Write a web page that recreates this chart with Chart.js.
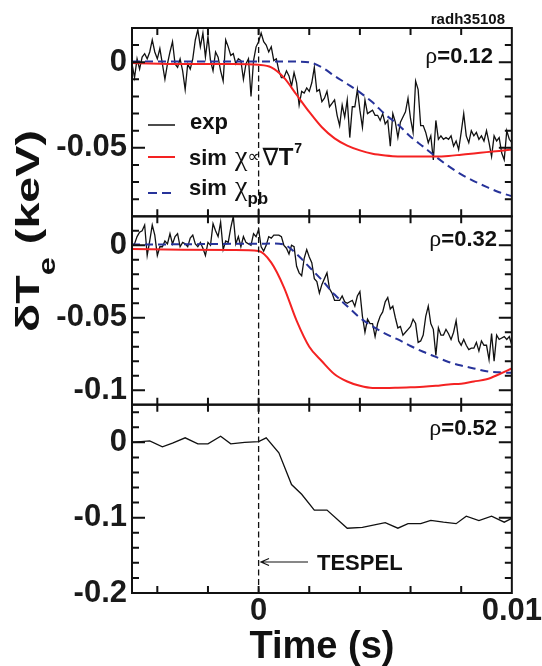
<!DOCTYPE html>
<html lang="en">
<head>
<meta charset="UTF-8">
<title>TESPEL cold pulse - delta Te</title>
<script src="https://cdn.jsdelivr.net/npm/chart.js@4"></script>
<style>
  body { margin: 0; background: #fff; }
  #wrap { width: 542px; height: 666px; }
</style>
</head>
<body>
<div id="wrap"><canvas id="te" width="542" height="666"></canvas></div>
<script>
const SANS = '"Liberation Sans", Arial, Helvetica, sans-serif';
const SERIF = '"Liberation Serif", "DejaVu Serif", serif';
const SYM = '"DejaVu Sans", sans-serif';

// time axis (s)
const xTicks = [-0.004, -0.002, 0, 0.002, 0.004, 0.006, 0.008, 0.01];
const xLabels = [0, 0.01];
const tespelTime = 0;

// y ticks per panel (keV)
const topTicks = [0.01, 0, -0.01, -0.02, -0.03, -0.04, -0.05, -0.06, -0.07, -0.08];
const topLabels = [0, -0.05];
const midTicks = [0.01, 0, -0.01, -0.02, -0.03, -0.04, -0.05, -0.06, -0.07, -0.08, -0.09, -0.1];
const midLabels = [0, -0.05, -0.1];
const lowTicks = [0.04, 0.02, 0, -0.02, -0.04, -0.06, -0.08, -0.1, -0.12, -0.14, -0.16, -0.18, -0.2];
const lowLabels = [0, -0.1, -0.2];

// measured traces, one sample every 0.1 ms starting at -5 ms
const expStart = -0.005;
const expStep = 0.0001;
const expTop = [
  -0.001, -0.009, 0.002, -0.004, 0.003, 0.005, 0.002, 0.006, 0.013, 0.006,
  0.002, 0.008, -0.001, -0.010, -0.001, 0.006, 0.012, -0.001, -0.003, 0.002,
  -0.005, -0.016, -0.001, -0.004, 0.002, 0.013, 0.019, 0.009, 0.017, 0.003,
  0.015, 0.001, -0.005, 0.006, 0.003, -0.005, -0.011, 0.013, 0.009, 0.004,
  0.005, -0.001, 0.002, 0.001, -0.010, -0.001, 0.002, -0.020, 0.001, 0.009,
  0.012, 0.017, 0.012, 0.010, 0.006, 0.009, 0.001, 0.002, -0.005, -0.009,
  -0.009, -0.005, -0.008, -0.014, -0.006, -0.012, -0.025, -0.017, -0.018, -0.015,
  -0.017, -0.012, -0.003, -0.017, -0.016, -0.023, -0.021, -0.017, -0.026, -0.024,
  -0.022, -0.031, -0.037, -0.025, -0.032, -0.022, -0.044, -0.026, -0.026, -0.016,
  -0.028, -0.038, -0.022, -0.030, -0.029, -0.028, -0.031, -0.031, -0.034, -0.030,
  -0.036, -0.034, -0.049, -0.030, -0.035, -0.044, -0.035, -0.032, -0.029, -0.021,
  -0.033, -0.041, -0.011, -0.016, -0.037, -0.037, -0.041, -0.047, -0.043, -0.057,
  -0.034, -0.045, -0.043, -0.045, -0.044, -0.045, -0.043, -0.049, -0.046, -0.051,
  -0.041, -0.030, -0.043, -0.047, -0.040, -0.043, -0.041, -0.045, -0.043, -0.046,
  -0.040, -0.047, -0.055, -0.043, -0.046, -0.044, -0.053, -0.057, -0.040, -0.045,
  -0.047
];
const expMid = [
  0.000, 0.001, 0.006, 0.009, 0.010, 0.014, -0.007, 0.003, 0.014, 0.007,
  -0.007, -0.001, -0.001, 0.003, 0.001, 0.008, 0.001, 0.006, 0.008, -0.001,
  0.002, 0.001, -0.001, 0.005, 0.007, 0.001, -0.001, 0.002, -0.002, -0.007,
  0.002, 0.000, 0.015, 0.010, 0.006, 0.016, -0.003, 0.003, 0.002, 0.012,
  0.020, 0.001, 0.006, -0.001, 0.006, 0.002, 0.001, 0.000, 0.008, 0.006,
  0.011, -0.001, -0.004, 0.000, 0.006, 0.005, 0.007, 0.007, 0.007, 0.006,
  0.000, -0.002, -0.006, 0.000, -0.001, -0.0145, -0.019, -0.021, -0.009, -0.003,
  -0.008, -0.012, -0.023, -0.025, -0.033, -0.027, -0.023, -0.019, -0.030, -0.033,
  -0.038, -0.038, -0.038, -0.035, -0.039, -0.040, -0.039, -0.038, -0.042, -0.035,
  -0.032, -0.049, -0.060, -0.051, -0.054, -0.054, -0.063, -0.054, -0.049, -0.046,
  -0.039, -0.036, -0.044, -0.042, -0.050, -0.057, -0.056, -0.062, -0.060, -0.058,
  -0.056, -0.051, -0.054, -0.067, -0.066, -0.062, -0.049, -0.042, -0.054, -0.058,
  -0.076, -0.057, -0.062, -0.062, -0.058, -0.061, -0.065, -0.060, -0.052, -0.066,
  -0.069, -0.065, -0.069, -0.072, -0.071, -0.071, -0.067, -0.073, -0.066, -0.069,
  -0.069, -0.079, -0.061, -0.080, -0.062, -0.065, -0.064, -0.063, -0.065, -0.063,
  -0.069
];

// rho = 0.52 channel (coarser sampling)
const expLowTime = [-0.005, -0.0043, -0.0038, -0.0034, -0.0029, -0.0024, -0.002, -0.0015, -0.0011, -0.00055,
  0, 0.0003, 0.0008, 0.0013, 0.0017, 0.0022, 0.0027, 0.0035, 0.0041, 0.005,
  0.0055, 0.0059, 0.0064, 0.0068, 0.0073, 0.0078, 0.0082, 0.0087, 0.0092, 0.0097, 0.01];
const expLow = [0.000, 0.002, -0.006, -0.001, 0.006, -0.002, -0.002, 0.008, -0.002, 0.000,
  0.001, 0.006, -0.014, -0.056, -0.069, -0.090, -0.090, -0.114, -0.113, -0.1065,
  -0.114, -0.108, -0.108, -0.1035, -0.106, -0.108, -0.098, -0.104, -0.098, -0.106, -0.101];

// simulations
const simTime = [-0.005, -0.003, -0.001, 0, 0.0005, 0.001, 0.0015, 0.002, 0.0025, 0.003,
  0.0035, 0.004, 0.0045, 0.005, 0.0055, 0.006, 0.0065, 0.007, 0.0075, 0.008,
  0.0085, 0.009, 0.0095, 0.01];
const simGradTop = [-0.0005, -0.001, -0.001, -0.0015, -0.003, -0.009, -0.019, -0.029, -0.038, -0.0445,
  -0.0487, -0.0515, -0.0535, -0.0545, -0.055, -0.055, -0.055, -0.055, -0.0547, -0.054,
  -0.0533, -0.0525, -0.0518, -0.051];
const simPbTop = [0.0005, 0.0005, 0.0005, 0.0005, 0.0005, 0.0005, 0.0004, 0.0, -0.003, -0.008,
  -0.0127, -0.0176, -0.0234, -0.0305, -0.0363, -0.0435, -0.0493, -0.0552, -0.0607, -0.0655,
  -0.0694, -0.0728, -0.0759, -0.0782];
const simGradMid = [-0.0025, -0.003, -0.0033, -0.004, -0.012, -0.029, -0.052, -0.070, -0.080, -0.089,
  -0.094, -0.097, -0.0985, -0.0985, -0.0983, -0.098, -0.0977, -0.097, -0.096, -0.0955,
  -0.094, -0.0925, -0.089, -0.085];
const simPbMid = [0.0005, 0.0007, 0.001, 0.001, 0.0013, 0.0005, -0.006, -0.015, -0.024, -0.034,
  -0.042, -0.050, -0.056, -0.061, -0.065, -0.0695, -0.0735, -0.077, -0.0805, -0.083,
  -0.085, -0.087, -0.0877, -0.088];

const panels = [
  { id: 'yTop', min: -0.09, max: 0.02, ticks: topTicks, labels: topLabels, rho: '0.12', rhoX: 493, rhoY: 63, weight: 3 },
  { id: 'yMid', min: -0.11, max: 0.02, ticks: midTicks, labels: midLabels, rho: '0.32', rhoX: 497, rhoY: 246, weight: 2 },
  { id: 'yLow', min: -0.2, max: 0.05, ticks: lowTicks, labels: lowLabels, rho: '0.52', rhoX: 497, rhoY: 435, weight: 1 }
];

const expTime = expTop.map((_, i) => Math.round((expStart + i * expStep) * 1e5) / 1e5);
const pts = (xs, ys) => ys.map((y, i) => ({ x: xs[i], y }));
const fmt = v => String(Number(v.toFixed(4)));
const has = (arr, v) => arr.some(a => Math.abs(a - v) < 1e-9);

const RED = '#f42222';
const BLUE = '#27339a';
const INK = '#111';

function drawParts(ctx, parts, x, y) {
  let cx = x;
  parts.forEach(p => {
    ctx.font = p.font;
    ctx.fillText(p.text, cx, y + (p.dy || 0));
    cx += ctx.measureText(p.text).width + (p.gap || 0);
  });
  return cx - x;
}
function partsWidth(ctx, parts) {
  return parts.reduce((w, p) => { ctx.font = p.font; return w + ctx.measureText(p.text).width + (p.gap || 0); }, 0);
}

// frames, inward ticks and the TESPEL marker line
const frames = {
  id: 'frames',
  afterDatasetsDraw(chart) {
    const { ctx, scales, chartArea } = chart;
    const x = scales.x;
    const left = chartArea.left, right = chartArea.right;
    ctx.save();
    const x0 = x.getPixelForValue(tespelTime);
    ctx.strokeStyle = INK;
    ctx.lineWidth = 1.3;
    ctx.setLineDash([6, 3.5]);
    ctx.beginPath();
    ctx.moveTo(x0, chartArea.top);
    ctx.lineTo(x0, chartArea.bottom);
    ctx.stroke();
    ctx.setLineDash([]);
    ctx.lineWidth = 2;
    panels.forEach(p => {
      const s = scales[p.id];
      const top = s.top, bottom = s.bottom;
      ctx.strokeRect(left, top, right - left, bottom - top);
      ctx.beginPath();
      p.ticks.forEach(v => {
        const y = s.getPixelForValue(v);
        if (y <= top + 1 || y >= bottom - 1) return;
        const len = has(p.labels, v) ? 13 : 7;
        ctx.moveTo(left, y); ctx.lineTo(left + len, y);
        ctx.moveTo(right, y); ctx.lineTo(right - len, y);
      });
      xTicks.forEach(v => {
        const px = x.getPixelForValue(v);
        if (px <= left + 1 || px >= right - 1) return;
        ctx.moveTo(px, top); ctx.lineTo(px, top + 7);
        ctx.moveTo(px, bottom); ctx.lineTo(px, bottom - 7);
      });
      ctx.stroke();
    });
    ctx.restore();
  },
  afterDraw(chart) {
    const { ctx } = chart;
    ctx.save();
    ctx.fillStyle = INK;
    ctx.textBaseline = 'alphabetic';

    // shot number
    ctx.font = `bold 15px ${SANS}`;
    ctx.textAlign = 'right';
    ctx.fillText('radh35108', 505, 24);
    ctx.textAlign = 'left';

    // radius labels
    panels.forEach(p => {
      const parts = [
        { text: 'ρ', font: `24px ${SERIF}` },
        { text: '=' + p.rho, font: `bold 22px ${SANS}` }
      ];
      drawParts(ctx, parts, p.rhoX - partsWidth(ctx, parts), p.rhoY);
    });

    // legend
    ctx.lineWidth = 1.5;
    ctx.strokeStyle = INK;
    ctx.beginPath(); ctx.moveTo(148, 125); ctx.lineTo(175, 125); ctx.stroke();
    ctx.lineWidth = 2;
    ctx.strokeStyle = RED;
    ctx.beginPath(); ctx.moveTo(148, 157); ctx.lineTo(175, 157); ctx.stroke();
    ctx.strokeStyle = BLUE;
    ctx.setLineDash([9, 5]);
    ctx.beginPath(); ctx.moveTo(148, 193); ctx.lineTo(176, 193); ctx.stroke();
    ctx.setLineDash([]);

    const bold22 = `bold 22px ${SANS}`;
    drawParts(ctx, [{ text: 'exp', font: bold22 }], 190, 129);
    drawParts(ctx, [
      { text: 'sim ', font: bold22, gap: 2 },
      { text: 'χ', font: `28px ${SERIF}` },
      { text: '∝', font: `17px ${SYM}`, dy: -3, gap: 3 },
      { text: '∇', font: `24px ${SYM}` },
      { text: 'T', font: `bold 24px ${SANS}`, gap: 1 },
      { text: '7', font: `bold 14px ${SANS}`, dy: -12 }
    ], 189, 165);
    drawParts(ctx, [
      { text: 'sim ', font: bold22, gap: 2 },
      { text: 'χ', font: `28px ${SERIF}` },
      { text: 'pb', font: `bold 17px ${SANS}`, dy: 9 }
    ], 189, 195);

    // TESPEL arrow
    ctx.strokeStyle = INK;
    ctx.lineWidth = 1.2;
    ctx.beginPath();
    ctx.moveTo(308, 562); ctx.lineTo(261, 562);
    ctx.moveTo(269, 558.5); ctx.lineTo(261, 562); ctx.lineTo(269, 565.5);
    ctx.stroke();
    drawParts(ctx, [{ text: 'TESPEL', font: bold22 }], 317, 570);

    // y-axis title, rotated
    const title = [
      { text: 'δ', font: `bold 33px ${SANS}` },
      { text: 'T', font: `bold 33px ${SANS}` },
      { text: 'e', font: `bold 23px ${SANS}`, dy: 16 },
      { text: ' (keV)', font: `bold 33px ${SANS}` }
    ];
    ctx.translate(39, 231);
    ctx.rotate(-Math.PI / 2);
    const w = partsWidth(ctx, title);
    ctx.scale(202 / w, 1);
    drawParts(ctx, title, -w / 2, 0);
    ctx.restore();
  }
};

function panelScale(p) {
  return {
    type: 'linear',
    position: 'left',
    stack: 'te',
    stackWeight: 1,
    weight: p.weight,
    min: p.min,
    max: p.max,
    afterBuildTicks: s => { s.ticks = p.ticks.map(v => ({ value: v })); },
    afterFit: s => { s.width = 132; },
    grid: { display: false, drawTicks: false },
    border: { display: false },
    ticks: {
      autoSkip: false,
      padding: 5,
      color: '#1a1a1a',
      font: { family: SANS, size: 31, weight: 'bold' },
      callback: v => has(p.labels, v) ? fmt(v) : ''
    }
  };
}

const line = (label, data, yAxisID, color, width, extra) => Object.assign({
  label, data, yAxisID,
  borderColor: color,
  borderWidth: width,
  pointRadius: 0,
  fill: false,
  tension: 0
}, extra || {});
const sim = { cubicInterpolationMode: 'monotone' };

const datasets = [
  line('sim grad T^7 (0.12)', pts(simTime, simGradTop), 'yTop', RED, 2, Object.assign({ order: 1 }, sim)),
  line('sim pb (0.12)', pts(simTime, simPbTop), 'yTop', BLUE, 2, Object.assign({ order: 2, borderDash: [8, 5] }, sim)),
  line('exp (0.12)', pts(expTime, expTop), 'yTop', INK, 1.3, { order: 3 }),
  line('sim grad T^7 (0.32)', pts(simTime, simGradMid), 'yMid', RED, 2, Object.assign({ order: 1 }, sim)),
  line('sim pb (0.32)', pts(simTime, simPbMid), 'yMid', BLUE, 2, Object.assign({ order: 2, borderDash: [8, 5] }, sim)),
  line('exp (0.32)', pts(expTime, expMid), 'yMid', INK, 1.3, { order: 3 }),
  line('exp (0.52)', pts(expLowTime, expLow), 'yLow', INK, 1.3, { order: 3 })
];

const scales = {
  x: {
    type: 'linear',
    min: -0.005,
    max: 0.01,
    afterBuildTicks: s => { s.ticks = xTicks.map(v => ({ value: v })); },
    afterFit: s => { s.height = 73; },
    grid: { display: false, drawTicks: false },
    border: { display: false },
    ticks: {
      autoSkip: false,
      maxRotation: 0,
      padding: 0,
      color: '#1a1a1a',
      font: { family: SANS, size: 31, weight: 'bold', lineHeight: 1.2 },
      callback: v => has(xLabels, v) ? fmt(v) : ''
    },
    title: {
      display: true,
      text: 'Time (s)',
      color: INK,
      font: { family: SANS, size: 38, weight: 'bold', lineHeight: 1 },
      padding: { top: 0, bottom: -1 }
    }
  }
};
panels.forEach(p => { scales[p.id] = panelScale(p); });

new Chart(document.getElementById('te'), {
  type: 'line',
  data: { datasets },
  options: {
    responsive: false,
    animation: false,
    layout: { padding: { top: 28, right: 30, bottom: 0, left: 0 }, autoPadding: false },
    plugins: { legend: { display: false }, tooltip: { enabled: false } },
    scales
  },
  plugins: [frames]
});
</script>
</body>
</html>
